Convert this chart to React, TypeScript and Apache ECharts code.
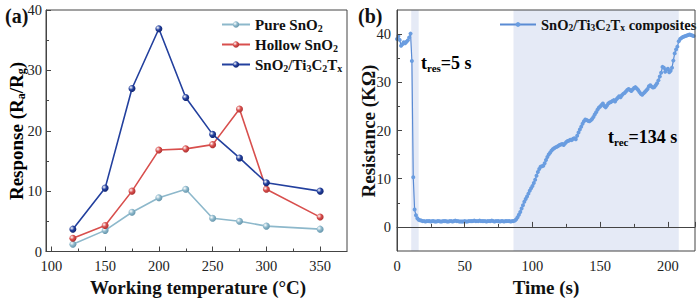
import React, { useEffect, useRef } from 'react';
import * as echarts from 'echarts';

// ---------- (a) response vs working temperature ----------
const temperatures = [120, 150, 175, 200, 225, 250, 275, 300, 350];
const pureSnO2 = [1.2, 3.5, 6.5, 8.9, 10.3, 5.5, 5.0, 4.2, 3.7];
const hollowSnO2 = [2.2, 4.3, 10.0, 16.8, 17.0, 17.7, 23.6, 10.3, 5.7];
const compositeResp = [3.7, 10.5, 27.0, 36.9, 25.5, 19.4, 15.5, 11.4, 10.0];
const tempTickLabels = [100, 150, 200, 250, 300, 350];
const tempMinorTicks = [125, 175, 225, 275, 325];

// ---------- (b) resistance vs time (1 s sampling) ----------
const airBaseline = [39.0, 39.6, 38.8, 37.6, 37.9, 38.3, 38.1, 38.4, 38.7, 39.3, 40.1];
const responseDrop = [34.4, 10.3, 3.6, 2.4, 1.8, 1.5, 1.4, 1.3];
const gasPlateau = [
  1.2, 1.2, 1.1, 1.2, 1.2, 1.2, 1.1, 1.2, 1.2, 1.1,
  1.1, 1.2, 1.2, 1.1, 1.1, 1.2, 1.2, 1.2, 1.1, 1.1,
  1.2, 1.2, 1.1, 1.2, 1.3, 1.2, 1.2, 1.1, 1.1, 1.1,
  1.1, 1.2, 1.1, 1.1, 1.2, 1.2, 1.2, 1.2, 1.3, 1.2,
  1.2, 1.2, 1.3, 1.2, 1.2, 1.2, 1.2, 1.1, 1.2, 1.2,
  1.2, 1.3, 1.2, 1.1, 1.2, 1.2, 1.2, 1.1, 1.2, 1.2,
  1.1, 1.2, 1.2, 1.2, 1.2, 1.1, 1.2,
];
const recovery = [
  1.2, 1.3, 1.6, 2.0, 2.5, 3.1, 3.8, 4.5, 5.2, 5.8,
  6.3, 6.9, 7.5, 8.0, 8.5, 9.1, 9.8, 10.6, 11.4, 12.0,
  12.5, 12.6, 12.7, 13.2, 13.9, 14.5, 15.0, 15.4, 15.8, 16.1,
  16.3, 16.5, 16.6, 16.8, 17.0, 17.1, 17.2, 17.0, 17.3, 17.6,
  17.8, 17.9, 18.1, 18.0, 18.3, 18.4, 18.2, 18.9, 19.6, 20.2,
  20.8, 21.4, 21.9, 22.3, 22.2, 22.0, 21.9, 22.1, 22.4, 22.8,
  23.3, 23.8, 24.3, 24.7, 25.0, 25.3, 25.6, 25.1, 24.8, 25.2,
  25.6, 25.8, 25.9, 26.1, 26.3, 26.0, 26.5, 26.8, 27.1, 26.9,
  27.3, 27.6, 27.8, 28.1, 28.4, 28.6, 28.4, 28.2, 28.5, 28.8,
  29.0, 28.7, 28.4, 28.0, 27.6, 27.4, 27.7, 28.0, 28.3, 28.6,
  29.2, 29.4, 29.1, 28.9, 29.0, 29.4, 29.8, 30.4, 31.2, 32.0,
  33.2, 33.0, 32.2, 32.6, 32.8, 32.1, 32.4, 33.0, 34.5, 36.0,
  36.8, 37.4, 38.5, 39.0, 39.2, 39.4, 39.5, 39.6, 39.7, 39.8,
  39.9, 39.8, 39.7, 39.6,
];
const resistance = [...airBaseline, ...responseDrop, ...gasPlateau, ...recovery];
const responseWindow = [10.5, 16];
const recoveryWindow = [86, 208];
const resistanceTickLabels = [0, 10, 20, 30, 40];
const resistanceMinorTicks = [5, 15, 25, 35];

const FONT = 'Liberation Serif, serif';
const INK = '#111';
const AXIS = '#444';

const rich = (size: number, sub: number, pad: number) => ({
  b: { fontFamily: FONT, fontWeight: 'bold', fontSize: size, color: INK },
  s: {
    fontFamily: FONT, fontWeight: 'bold', fontSize: sub, color: INK,
    verticalAlign: 'bottom', padding: [pad, 0, 0, 0],
  },
});

const legendRich: Record<string, string> = {
  'Pure SnO2': '{b|Pure SnO}{s|2}',
  'Hollow SnO2': '{b|Hollow SnO}{s|2}',
  'SnO2/Ti3C2Tx': '{b|SnO}{s|2}{b|/Ti}{s|3}{b|C}{s|2}{b|T}{s|x}',
  'SnO2/Ti3C2Tx composites': '{b|SnO}{s|2}{b|/Ti}{s|3}{b|C}{s|2}{b|T}{s|x}{b| composites}',
};

const ball = (c: string, dark: string) =>
  new echarts.graphic.RadialGradient(0.35, 0.35, 0.75, [
    { offset: 0, color: '#ffffff' },
    { offset: 0.45, color: c },
    { offset: 1, color: dark },
  ]);

const lineSeries = (name: string, vals: number[], c: string, dark: string) => ({
  type: 'line',
  name,
  xAxisIndex: 0,
  yAxisIndex: 0,
  data: temperatures.map((t, i) => [t, vals[i]]),
  symbol: 'circle',
  symbolSize: 7,
  lineStyle: { width: 1.6, color: c },
  itemStyle: { color: ball(c, dark) },
  z: 3,
});

const tickLabel = {
  formatter: (v: number) => `{n|${v}}`,
  rich: { n: { fontFamily: FONT, fontSize: 14.5, color: '#222', fontWeight: 'normal' } },
};

const option: any = {
  animation: false,
  backgroundColor: '#fff',
  textStyle: { fontFamily: FONT },
  grid: [
    { left: 46, top: 10, width: 301, height: 241.5, show: true, borderColor: AXIS, borderWidth: 1, backgroundColor: 'transparent', z: 5 },
    { left: 397, top: 10, width: 298, height: 241, show: true, borderColor: AXIS, borderWidth: 1, backgroundColor: 'transparent', z: 5 },
  ],
  xAxis: [
    {
      type: 'value', gridIndex: 0, min: 95, max: 375, z: 5,
      axisLine: { show: true, lineStyle: { color: AXIS, width: 1 } },
      axisTick: { show: true, inside: true, length: 5, customValues: tempTickLabels, lineStyle: { color: AXIS } },
      axisLabel: { ...tickLabel, margin: 7, customValues: tempTickLabels },
      splitLine: { show: false },
    },
    {
      type: 'value', gridIndex: 0, min: 95, max: 375, position: 'bottom', z: 5,
      axisLine: { show: false },
      axisTick: { show: true, inside: true, length: 3, customValues: tempMinorTicks, lineStyle: { color: AXIS } },
      axisLabel: { show: false },
      splitLine: { show: false },
    },
    {
      type: 'value', gridIndex: 1, min: 0, max: 220, interval: 50, z: 5,
      axisLine: { show: true, lineStyle: { color: AXIS, width: 1 } },
      axisTick: { show: true, inside: true, length: 5, lineStyle: { color: AXIS } },
      minorTick: { show: true, splitNumber: 2, length: 3, lineStyle: { color: AXIS } },
      axisLabel: { ...tickLabel, margin: 7, showMaxLabel: false },
      splitLine: { show: false },
    },
  ],
  yAxis: [
    {
      type: 'value', gridIndex: 0, min: 0, max: 40, interval: 10, z: 5,
      axisLine: { show: true, lineStyle: { color: AXIS, width: 1 } },
      axisTick: { show: true, inside: true, length: 5, lineStyle: { color: AXIS } },
      minorTick: { show: true, splitNumber: 2, length: 3, lineStyle: { color: AXIS } },
      axisLabel: { ...tickLabel, margin: 4 },
      splitLine: { show: false },
    },
    {
      type: 'value', gridIndex: 1, min: -5, max: 45, z: 5,
      axisLine: { show: true, lineStyle: { color: AXIS, width: 1 } },
      axisTick: { show: true, inside: true, length: 5, customValues: resistanceTickLabels, lineStyle: { color: AXIS } },
      axisLabel: { ...tickLabel, margin: 6, customValues: resistanceTickLabels },
      splitLine: { show: false },
    },
    {
      type: 'value', gridIndex: 1, min: -5, max: 45, position: 'left', z: 5,
      axisLine: { show: false },
      axisTick: { show: true, inside: true, length: 3, customValues: resistanceMinorTicks, lineStyle: { color: AXIS } },
      axisLabel: { show: false },
      splitLine: { show: false },
    },
  ],
  legend: [
    {
      orient: 'vertical', left: 216, top: 12, itemWidth: 28, itemHeight: 8, itemGap: 4,
      data: ['Pure SnO2', 'Hollow SnO2', 'SnO2/Ti3C2Tx'],
      formatter: (n: string) => legendRich[n],
      textStyle: { rich: rich(15, 10, 7) },
    },
    {
      orient: 'horizontal', left: 494, top: 12, itemWidth: 36, itemHeight: 6, itemGap: 4,
      data: ['SnO2/Ti3C2Tx composites'],
      formatter: (n: string) => legendRich[n],
      textStyle: { rich: rich(14.5, 9.5, 7) },
    },
  ],
  series: [
    lineSeries('Pure SnO2', pureSnO2, '#8db8cb', '#5d8ea5'),
    lineSeries('Hollow SnO2', hollowSnO2, '#d84f4d', '#a52a2a'),
    lineSeries('SnO2/Ti3C2Tx', compositeResp, '#23409e', '#0d1f66'),
    {
      type: 'line',
      name: 'SnO2/Ti3C2Tx composites',
      xAxisIndex: 2,
      yAxisIndex: 1,
      data: resistance.map((v, i) => [i, v]),
      symbol: 'circle',
      symbolSize: 4,
      showAllSymbol: true,
      lineStyle: { width: 1.2, color: '#5a8bd4' },
      itemStyle: { color: '#6a9de0' },
      z: 3,
      markArea: {
        silent: true,
        itemStyle: { color: '#e5eaf6' },
        data: [
          [{ xAxis: responseWindow[0] }, { xAxis: responseWindow[1] }],
          [{ xAxis: recoveryWindow[0] }, { xAxis: recoveryWindow[1] }],
        ],
      },
    },
  ],
  graphic: [
    { type: 'text', left: 5, top: 6, style: { text: '(a)', font: `bold 20px ${FONT}`, fill: INK } },
    { type: 'text', left: 358, top: 6, style: { text: '(b)', font: `bold 20px ${FONT}`, fill: INK } },
    {
      type: 'text', x: 16, y: 131, rotation: Math.PI / 2,
      style: { text: '{b|Response (R}{s|a}{b|/R}{s|g}{b|)}', rich: rich(19, 12, 10), align: 'center', verticalAlign: 'middle' },
    },
    {
      type: 'text', x: 198, y: 287,
      style: { text: 'Working temperature (°C)', font: `bold 19px ${FONT}`, fill: INK, align: 'center', verticalAlign: 'middle' },
    },
    {
      type: 'text', x: 368, y: 131, rotation: Math.PI / 2,
      style: { text: 'Resistance (KΩ)', font: `bold 19px ${FONT}`, fill: INK, align: 'center', verticalAlign: 'middle' },
    },
    {
      type: 'text', x: 546, y: 287,
      style: { text: 'Time (s)', font: `bold 19px ${FONT}`, fill: INK, align: 'center', verticalAlign: 'middle' },
    },
    {
      type: 'text', x: 421, y: 63, z: 10,
      style: { text: '{b|t}{s|res}{b|=5 s}', rich: rich(18, 11, 9), align: 'left', verticalAlign: 'middle' },
    },
    {
      type: 'text', x: 608, y: 137, z: 10,
      style: { text: '{b|t}{s|rec}{b|=134 s}', rich: rich(18, 11, 9), align: 'left', verticalAlign: 'middle' },
    },
  ],
};

export default function App() {
  const ref = useRef<HTMLDivElement>(null);
  useEffect(() => {
    const chart = echarts.init(ref.current!, null, { renderer: 'svg' });
    chart.setOption(option);
    return () => chart.dispose();
  }, []);
  return (
    <div
      ref={ref}
      style={{ position: 'fixed', left: 0, top: 0, width: 700, height: 305, background: '#fff' }}
    />
  );
}
